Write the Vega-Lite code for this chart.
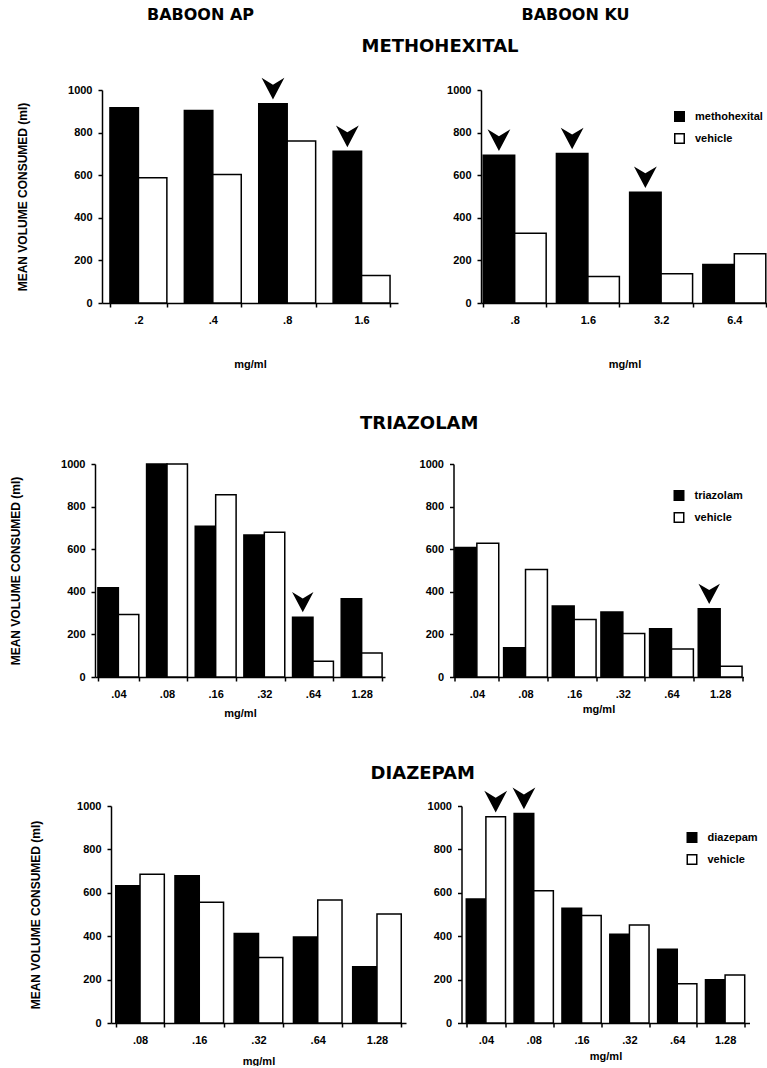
{
  "$schema": "https://vega.github.io/schema/vega-lite/v6.json",
  "background": "white",
  "padding": {"left": 8, "top": 7, "right": 0, "bottom": 0},
  "config": {
    "view": {"stroke": null},
    "axis": {
      "grid": false,
      "domainColor": "black",
      "domainWidth": 1.5,
      "tickColor": "black",
      "tickWidth": 1.5,
      "tickSize": 4,
      "labelColor": "black",
      "labelFont": "Liberation Sans",
      "labelFontSize": 11,
      "labelFontWeight": "bold",
      "titleColor": "black",
      "titleFont": "Liberation Sans",
      "titleFontWeight": "bold"
    },
    "axisX": {"labelAngle": 0, "labelPadding": 7, "titleFontSize": 11, "tickBand": "extent"},
    "axisY": {"labelPadding": 6, "titleFontSize": 12, "labelFlush": false, "format": "d", "values": [0, 200, 400, 600, 800, 1000]},
    "legend": {
      "orient": "none",
      "title": null,
      "padding": 0,
      "symbolType": "square",
      "symbolSize": 90,
      "symbolStrokeColor": "black",
      "symbolStrokeWidth": 1.5,
      "labelFont": "Liberation Sans",
      "labelFontSize": 11,
      "labelFontWeight": "bold",
      "labelColor": "black",
      "labelOffset": 10,
      "rowPadding": 5
    }
  },
  "datasets": {
    "ap_meth": [
      {"dose": ".2", "series": "methohexital", "value": 917, "arrow": false},
      {"dose": ".2", "series": "vehicle", "value": 588, "arrow": false},
      {"dose": ".4", "series": "methohexital", "value": 904, "arrow": false},
      {"dose": ".4", "series": "vehicle", "value": 603, "arrow": false},
      {"dose": ".8", "series": "methohexital", "value": 936, "arrow": true},
      {"dose": ".8", "series": "vehicle", "value": 760, "arrow": false},
      {"dose": "1.6", "series": "methohexital", "value": 712, "arrow": true},
      {"dose": "1.6", "series": "vehicle", "value": 129, "arrow": false}
    ],
    "ku_meth": [
      {"dose": ".8", "series": "methohexital", "value": 694, "arrow": true},
      {"dose": ".8", "series": "vehicle", "value": 328, "arrow": false},
      {"dose": "1.6", "series": "methohexital", "value": 702, "arrow": true},
      {"dose": "1.6", "series": "vehicle", "value": 124, "arrow": false},
      {"dose": "3.2", "series": "methohexital", "value": 520, "arrow": true},
      {"dose": "3.2", "series": "vehicle", "value": 137, "arrow": false},
      {"dose": "6.4", "series": "methohexital", "value": 181, "arrow": false},
      {"dose": "6.4", "series": "vehicle", "value": 231, "arrow": false}
    ],
    "ap_tri": [
      {"dose": ".04", "series": "triazolam", "value": 419, "arrow": false},
      {"dose": ".04", "series": "vehicle", "value": 294, "arrow": false},
      {"dose": ".08", "series": "triazolam", "value": 1000, "arrow": false},
      {"dose": ".08", "series": "vehicle", "value": 1000, "arrow": false},
      {"dose": ".16", "series": "triazolam", "value": 708, "arrow": false},
      {"dose": ".16", "series": "vehicle", "value": 856, "arrow": false},
      {"dose": ".32", "series": "triazolam", "value": 667, "arrow": false},
      {"dose": ".32", "series": "vehicle", "value": 680, "arrow": false},
      {"dose": ".64", "series": "triazolam", "value": 281, "arrow": true},
      {"dose": ".64", "series": "vehicle", "value": 74, "arrow": false},
      {"dose": "1.28", "series": "triazolam", "value": 367, "arrow": false},
      {"dose": "1.28", "series": "vehicle", "value": 113, "arrow": false}
    ],
    "ku_tri": [
      {"dose": ".04", "series": "triazolam", "value": 608, "arrow": false},
      {"dose": ".04", "series": "vehicle", "value": 628, "arrow": false},
      {"dose": ".08", "series": "triazolam", "value": 137, "arrow": false},
      {"dose": ".08", "series": "vehicle", "value": 505, "arrow": false},
      {"dose": ".16", "series": "triazolam", "value": 333, "arrow": false},
      {"dose": ".16", "series": "vehicle", "value": 270, "arrow": false},
      {"dose": ".32", "series": "triazolam", "value": 305, "arrow": false},
      {"dose": ".32", "series": "vehicle", "value": 204, "arrow": false},
      {"dose": ".64", "series": "triazolam", "value": 226, "arrow": false},
      {"dose": ".64", "series": "vehicle", "value": 132, "arrow": false},
      {"dose": "1.28", "series": "triazolam", "value": 320, "arrow": true},
      {"dose": "1.28", "series": "vehicle", "value": 50, "arrow": false}
    ],
    "ap_dia": [
      {"dose": ".08", "series": "diazepam", "value": 632, "arrow": false},
      {"dose": ".08", "series": "vehicle", "value": 686, "arrow": false},
      {"dose": ".16", "series": "diazepam", "value": 679, "arrow": false},
      {"dose": ".16", "series": "vehicle", "value": 557, "arrow": false},
      {"dose": ".32", "series": "diazepam", "value": 413, "arrow": false},
      {"dose": ".32", "series": "vehicle", "value": 302, "arrow": false},
      {"dose": ".64", "series": "diazepam", "value": 396, "arrow": false},
      {"dose": ".64", "series": "vehicle", "value": 567, "arrow": false},
      {"dose": "1.28", "series": "diazepam", "value": 259, "arrow": false},
      {"dose": "1.28", "series": "vehicle", "value": 502, "arrow": false}
    ],
    "ku_dia": [
      {"dose": ".04", "series": "diazepam", "value": 572, "arrow": false},
      {"dose": ".04", "series": "vehicle", "value": 951, "arrow": true},
      {"dose": ".08", "series": "diazepam", "value": 966, "arrow": true},
      {"dose": ".08", "series": "vehicle", "value": 610, "arrow": false},
      {"dose": ".16", "series": "diazepam", "value": 529, "arrow": false},
      {"dose": ".16", "series": "vehicle", "value": 495, "arrow": false},
      {"dose": ".32", "series": "diazepam", "value": 409, "arrow": false},
      {"dose": ".32", "series": "vehicle", "value": 452, "arrow": false},
      {"dose": ".64", "series": "diazepam", "value": 340, "arrow": false},
      {"dose": ".64", "series": "vehicle", "value": 181, "arrow": false},
      {"dose": "1.28", "series": "diazepam", "value": 199, "arrow": false},
      {"dose": "1.28", "series": "vehicle", "value": 221, "arrow": false}
    ]
  },
  "columns": 1,
  "align": "none",
  "spacing": 14,
  "resolve": {"scale": {"x": "independent", "y": "independent", "xOffset": "independent", "fill": "independent"}, "legend": {"fill": "independent"}, "axis": {"x": "independent", "y": "independent"}},
  "concat": [
    {
      "width": 750,
      "height": 14,
      "data": {"values": [{"baboon": "BABOON AP"}, {"baboon": "BABOON KU"}]},
      "mark": {"type": "text", "font": "DejaVu Sans", "fontSize": 16, "fontWeight": "bold", "color": "black", "dx": 5},
      "encoding": {
        "x": {"field": "baboon", "type": "nominal", "sort": null, "axis": null, "scale": {"type": "point", "padding": 0.5}},
        "text": {"field": "baboon"}
      }
    },
    {
      "columns": 1,
      "align": "none",
      "spacing": 46,
      "resolve": {"scale": {"x": "independent", "y": "independent", "xOffset": "independent", "fill": "independent"}, "legend": {"fill": "independent"}, "axis": {"x": "independent", "y": "independent"}},
      "concat": [
        {
          "title": {"text": "METHOHEXITAL", "anchor": "middle", "font": "DejaVu Sans", "fontSize": 18, "fontWeight": "bold", "color": "black", "dx": 52, "offset": 22},
          "spacing": 0,
          "resolve": {"scale": {"x": "independent", "y": "independent", "xOffset": "independent", "fill": "independent"}, "legend": {"fill": "independent"}, "axis": {"x": "independent", "y": "independent"}},
          "hconcat": [
            {"width": 8, "height": 10, "data": {"values": [{}]}, "mark": {"type": "text", "text": ""}, "encoding": {}},
            {
              "spacing": 48,
              "resolve": {"scale": {"x": "independent", "y": "independent", "xOffset": "independent", "fill": "independent"}, "legend": {"fill": "independent"}, "axis": {"x": "independent", "y": "independent"}},
              "hconcat": [
                {
                  "width": 296,
                  "height": 213,
                  "data": {"name": "ap_meth"},
                  "encoding": {
                    "x": {"field": "dose", "type": "nominal", "sort": null, "scale": {"paddingInner": 0.235, "paddingOuter": 0.107}, "axis": {"title": "mg/ml", "titlePadding": 33}},
                    "xOffset": {"field": "series", "type": "nominal", "sort": null, "scale": {"paddingInner": 0, "paddingOuter": 0}},
                    "y": {"field": "value", "type": "quantitative", "scale": {"domain": [0, 1000]}, "axis": {"title": "MEAN VOLUME CONSUMED (ml)", "titlePadding": 38}}
                  },
                  "layer": [
                    {"mark": {"type": "bar", "stroke": "black", "strokeWidth": 1.5}, "encoding": {"fill": {"field": "series", "type": "nominal", "sort": null, "scale": {"domain": ["methohexital", "vehicle"], "range": ["black", "white"]}, "legend": null}}},
                    {"transform": [{"filter": "datum.arrow"}], "mark": {"type": "point", "shape": "M-1,-0.95L0,-0.35L1,-0.95L0,0.95Z", "size": 520, "filled": true, "fill": "black", "strokeWidth": 0, "opacity": 1, "yOffset": -15}}
                  ]
                },
                {
                  "width": 287,
                  "height": 213,
                  "data": {"name": "ku_meth"},
                  "encoding": {
                    "x": {"field": "dose", "type": "nominal", "sort": null, "scale": {"paddingInner": 0.14, "paddingOuter": 0.03}, "axis": {"title": "mg/ml", "titlePadding": 33}},
                    "xOffset": {"field": "series", "type": "nominal", "sort": null, "scale": {"paddingInner": 0, "paddingOuter": 0}},
                    "y": {"field": "value", "type": "quantitative", "scale": {"domain": [0, 1000]}, "axis": {"title": null}}
                  },
                  "layer": [
                    {"mark": {"type": "bar", "stroke": "black", "strokeWidth": 1.5}, "encoding": {"fill": {"field": "series", "type": "nominal", "sort": null, "scale": {"domain": ["methohexital", "vehicle"], "range": ["black", "white"]}, "legend": {"legendX": 193, "legendY": 21}}}},
                    {"transform": [{"filter": "datum.arrow"}], "mark": {"type": "point", "shape": "M-1,-0.95L0,-0.35L1,-0.95L0,0.95Z", "size": 520, "filled": true, "fill": "black", "strokeWidth": 0, "opacity": 1, "yOffset": -15}}
                  ]
                }
              ]
            }
          ]
        },
        {
          "title": {"text": "TRIAZOLAM", "anchor": "middle", "font": "DejaVu Sans", "fontSize": 18, "fontWeight": "bold", "color": "black", "dx": 43.5, "offset": 25},
          "spacing": 0,
          "resolve": {"scale": {"x": "independent", "y": "independent", "xOffset": "independent", "fill": "independent"}, "legend": {"fill": "independent"}, "axis": {"x": "independent", "y": "independent"}},
          "hconcat": [
            {"width": 1, "height": 10, "data": {"values": [{}]}, "mark": {"type": "text", "text": ""}, "encoding": {}},
            {
              "spacing": 33.5,
              "resolve": {"scale": {"x": "independent", "y": "independent", "xOffset": "independent", "fill": "independent"}, "legend": {"fill": "independent"}, "axis": {"x": "independent", "y": "independent"}},
              "hconcat": [
                {
                  "width": 290,
                  "height": 213,
                  "data": {"name": "ap_tri"},
                  "encoding": {
                    "x": {"field": "dose", "type": "nominal", "sort": null, "scale": {"paddingInner": 0.16, "paddingOuter": 0.06}, "axis": {"title": "mg/ml", "titlePadding": 8}},
                    "xOffset": {"field": "series", "type": "nominal", "sort": null, "scale": {"paddingInner": 0, "paddingOuter": 0}},
                    "y": {"field": "value", "type": "quantitative", "scale": {"domain": [0, 1000]}, "axis": {"title": "MEAN VOLUME CONSUMED (ml)", "titlePadding": 38}}
                  },
                  "layer": [
                    {"mark": {"type": "bar", "stroke": "black", "strokeWidth": 1.5}, "encoding": {"fill": {"field": "series", "type": "nominal", "sort": null, "scale": {"domain": ["triazolam", "vehicle"], "range": ["black", "white"]}, "legend": null}}},
                    {"transform": [{"filter": "datum.arrow"}], "mark": {"type": "point", "shape": "M-1,-0.95L0,-0.35L1,-0.95L0,0.95Z", "size": 460, "filled": true, "fill": "black", "strokeWidth": 0, "opacity": 1, "yOffset": -15}}
                  ]
                },
                {
                  "width": 290,
                  "height": 213,
                  "data": {"name": "ku_tri"},
                  "encoding": {
                    "x": {"field": "dose", "type": "nominal", "sort": null, "scale": {"paddingInner": 0.1, "paddingOuter": 0.03}, "axis": {"title": "mg/ml", "titlePadding": 4}},
                    "xOffset": {"field": "series", "type": "nominal", "sort": null, "scale": {"paddingInner": 0, "paddingOuter": 0}},
                    "y": {"field": "value", "type": "quantitative", "scale": {"domain": [0, 1000]}, "axis": {"title": null}}
                  },
                  "layer": [
                    {"mark": {"type": "bar", "stroke": "black", "strokeWidth": 1.5}, "encoding": {"fill": {"field": "series", "type": "nominal", "sort": null, "scale": {"domain": ["triazolam", "vehicle"], "range": ["black", "white"]}, "legend": {"legendX": 220, "legendY": 26}}}},
                    {"transform": [{"filter": "datum.arrow"}], "mark": {"type": "point", "shape": "M-1,-0.95L0,-0.35L1,-0.95L0,0.95Z", "size": 460, "filled": true, "fill": "black", "strokeWidth": 0, "opacity": 1, "yOffset": -15}}
                  ]
                }
              ]
            }
          ]
        },
        {
          "title": {"text": "DIAZEPAM", "anchor": "middle", "font": "DejaVu Sans", "fontSize": 18, "fontWeight": "bold", "color": "black", "dx": 39.5, "offset": 5},
          "spacing": 0,
          "resolve": {"scale": {"x": "independent", "y": "independent", "xOffset": "independent", "fill": "independent"}, "legend": {"fill": "independent"}, "axis": {"x": "independent", "y": "independent"}},
          "hconcat": [
            {"width": 21, "height": 10, "data": {"values": [{}]}, "mark": {"type": "text", "text": ""}, "encoding": {}},
            {
              "spacing": 20.5,
              "resolve": {"scale": {"x": "independent", "y": "independent", "xOffset": "independent", "fill": "independent"}, "legend": {"fill": "independent"}, "axis": {"x": "independent", "y": "independent"}},
              "hconcat": [
                {
                  "width": 295,
                  "height": 217,
                  "data": {"name": "ap_dia"},
                  "encoding": {
                    "x": {"field": "dose", "type": "nominal", "sort": null, "scale": {"paddingInner": 0.18, "paddingOuter": 0.08}, "axis": {"title": "mg/ml", "titlePadding": 10}},
                    "xOffset": {"field": "series", "type": "nominal", "sort": null, "scale": {"paddingInner": 0, "paddingOuter": 0}},
                    "y": {"field": "value", "type": "quantitative", "scale": {"domain": [0, 1000]}, "axis": {"title": "MEAN VOLUME CONSUMED (ml)", "titlePadding": 34}}
                  },
                  "layer": [
                    {"mark": {"type": "bar", "stroke": "black", "strokeWidth": 1.5}, "encoding": {"fill": {"field": "series", "type": "nominal", "sort": null, "scale": {"domain": ["diazepam", "vehicle"], "range": ["black", "white"]}, "legend": null}}}
                  ]
                },
                {
                  "width": 288,
                  "height": 217,
                  "data": {"name": "ku_dia"},
                  "encoding": {
                    "x": {"field": "dose", "type": "nominal", "sort": null, "scale": {"paddingInner": 0.18, "paddingOuter": 0.1}, "axis": {"title": "mg/ml", "titlePadding": 5}},
                    "xOffset": {"field": "series", "type": "nominal", "sort": null, "scale": {"paddingInner": 0, "paddingOuter": 0}},
                    "y": {"field": "value", "type": "quantitative", "scale": {"domain": [0, 1000]}, "axis": {"title": null}}
                  },
                  "layer": [
                    {"mark": {"type": "bar", "stroke": "black", "strokeWidth": 1.5}, "encoding": {"fill": {"field": "series", "type": "nominal", "sort": null, "scale": {"domain": ["diazepam", "vehicle"], "range": ["black", "white"]}, "legend": {"legendX": 225, "legendY": 26}}}},
                    {"transform": [{"filter": "datum.arrow"}], "mark": {"type": "point", "shape": "M-1,-0.95L0,-0.35L1,-0.95L0,0.95Z", "size": 520, "filled": true, "fill": "black", "strokeWidth": 0, "opacity": 1, "yOffset": -15}}
                  ]
                }
              ]
            }
          ]
        }
      ]
    }
  ]
}
